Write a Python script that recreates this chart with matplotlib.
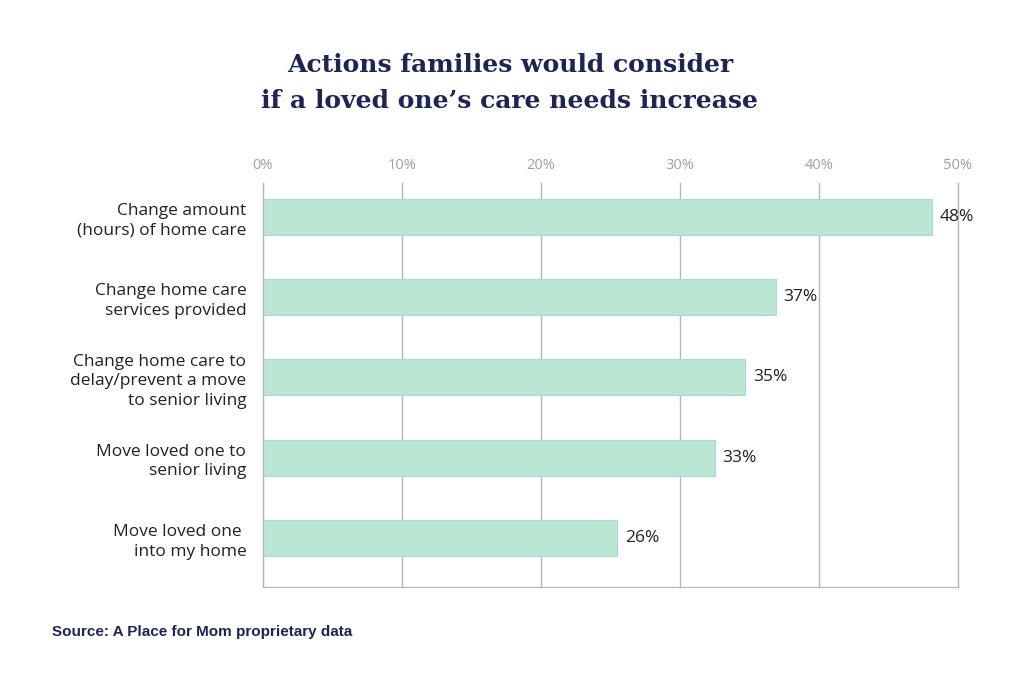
import matplotlib.pyplot as plt

categories = [
    'Change amount\n(hours) of home care',
    'Change home care\nservices provided',
    'Change home care to\ndelay/prevent a move\nto senior living',
    'Move loved one to\nsenior living',
    'Move loved one \ninto my home',
]
values = [48.1, 36.9, 34.7, 32.5, 25.5]
value_labels = ['48%', '37%', '35%', '33%', '26%']
ticks = [0, 10, 20, 30, 40, 50]

NAVY = '#1b2556'
BAR = '#b9e6d3'
GRID = '#b5b5b8'
LABEL_FONT = 'Open Sans'

fig = plt.figure(figsize=(10.24, 6.77), dpi=100)
ax = fig.add_axes([0.2568, 0.133, 0.6787, 0.5967])

ypos = list(range(len(categories)))
ax.barh(ypos, values, height=0.45, color=BAR, edgecolor='#a8ddc6',
        linewidth=0.8, zorder=3)

for y, v, lab in zip(ypos, values, value_labels):
    ax.text(v + 0.55, y, lab, va='center', ha='left', fontsize=12.5,
            color='#222222', family=LABEL_FONT)

ax.set_xlim(0, 50)
ax.set_ylim(4.61, -0.42)
ax.set_xticks(ticks)
ax.set_xticklabels([f'{t}%' for t in ticks], fontsize=10.5,
                   color='#a0a0a4', family=LABEL_FONT)
ax.xaxis.tick_top()
ax.tick_params(axis='x', length=0, pad=7)
ax.set_yticks(ypos)
ax.set_yticklabels(categories, fontsize=12.5, color='#222222',
                   family=LABEL_FONT, linespacing=1.3)
ax.tick_params(axis='y', length=0, pad=12)
ax.grid(axis='x', color=GRID, linewidth=1, zorder=0)
for gl in ax.get_xgridlines():
    gl.set_clip_on(False)

for side in ['top', 'right']:
    ax.spines[side].set_visible(False)
ax.spines['left'].set_color(GRID)
ax.spines['bottom'].set_color(GRID)
ax.spines['left'].set_zorder(4)

fig.text(0.498, 0.877, "Actions families would consider\nif a loved one\u2019s care needs increase",
         ha='center', va='center', fontsize=18, fontweight='bold',
         color=NAVY, family='DejaVu Serif', linespacing=1.65)
fig.text(0.051, 0.066, 'Source: A Place for Mom proprietary data',
         ha='left', va='center', fontsize=11, fontweight='bold',
         color=NAVY, family='Liberation Sans')

fig.savefig('out.png', dpi=100)
